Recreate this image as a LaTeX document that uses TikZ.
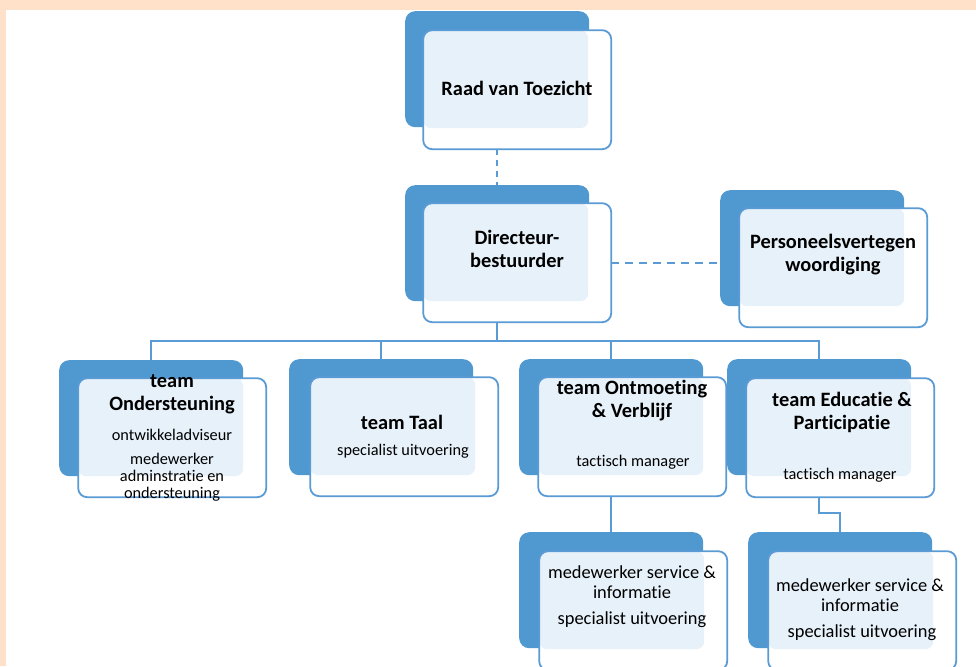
\documentclass[tikz,border=0pt]{standalone}
\usepackage{fontspec}
\setmainfont{Carlito}[Ligatures=CommonOff]
\definecolor{darkblue}{RGB}{80,152,208}
\definecolor{lineblue}{RGB}{91,155,213}
\definecolor{paleblue}{RGB}{231,241,249}
\definecolor{peach}{RGB}{255,224,200}
\begin{document}
\begin{tikzpicture}[x=1pt,y=-1pt]

\tikzset{back/.style = {shape=rectangle, rounded corners=10pt, fill=darkblue, minimum width=184pt, minimum height=116pt, inner sep=0pt, anchor=north west}}
\tikzset{front/.style = {shape=rectangle, rounded corners=9pt, fill=white, minimum width=188pt, minimum height=119pt, inner sep=0pt, anchor=north west,
  path picture={\fill[paleblue, rounded corners=8pt] (path picture bounding box.north west) rectangle ([xshift=-23pt,yshift=21pt]path picture bounding box.south east);},
  postaction={draw=lineblue, line width=1.8pt}}}
\tikzset{title/.style = {font=\bfseries\fontsize{20.4}{23}\selectfont, align=center}}
\tikzset{body/.style = {font=\fontsize{16.3}{17}\selectfont, align=center}}
\tikzset{subbody/.style = {font=\fontsize{18.4}{20.5}\selectfont, align=center}}
\tikzset{conn/.style = {draw=lineblue, line width=2pt}}

\useasboundingbox (0,0) rectangle (976,666);
\clip (0,0) rectangle (976,666);
\fill[white] (0,0) rectangle (976,666);
\fill[peach] (0,0) rectangle (976,10);
\fill[peach] (0,0) rectangle (6,666);

%boards
\node[back] (raadb) at (405,11) {};
\node[front] (raad) at (423,30) {};
\node[title] (raadt) at (517,88) {Raad van Toezicht};

\node[back] (dirb) at (405,185) {};
\node[front] (dir) at (423,203) {};
\node[title] (dirt) at (517,249) {Directeur-\\bestuurder};

\node[back] (persb) at (720,190) {};
\node[front] (pers) at (739,208) {};
\node[title] (perst) at (833,255) {Personeelsvertegen\\woordiging};

%teams
\node[back] (ondb) at (59,360) {};
\node[front] (ond) at (78,378) {};
\node[title] (ondt) at (172,394) {team\\Ondersteuning};
\node[body] (ondw) at (172,435) {ontwikkeladviseur};
\node[body] (ondm) at (172,477) {medewerker\\adminstratie en\\ondersteuning};

\node[back] (taalb) at (289,359) {};
\node[front] (taal) at (310,377) {};
\node[title] (taalt) at (402,422) {team Taal};
\node[body] (taalw) at (403,451) {specialist uitvoering};

\node[back] (ontb) at (519,359) {};
\node[front] (ont) at (538,377) {};
\node[title] (ontt) at (632,401) {team Ontmoeting\\\& Verblijf};
\node[body] (ontw) at (633,462) {tactisch manager};

\node[back] (edub) at (727,359) {};
\node[front] (edu) at (746,378) {};
\node[title] (edut) at (842,412) {team Educatie \&\\Participatie};
\node[body] (eduw) at (840,475) {tactisch manager};

%staff
\node[back] (ontsubb) at (519,532) {};
\node[front] (ontsub) at (539,551) {};
\node[subbody] (ontsubt) at (632,582) {medewerker service \&\\informatie};
\node[subbody] (ontsubw) at (632,620) {specialist uitvoering};

\node[back] (edusubb) at (748,532) {};
\node[front] (edusub) at (768,551) {};
\node[subbody] (edusubt) at (860,595) {medewerker service \&\\informatie};
\node[subbody] (edusubw) at (862,633) {specialist uitvoering};

%connectors
\draw[conn, dash pattern=on 6pt off 5pt] (raadb.south |- raad.south) -- (dirb.north);
\draw[conn, dash pattern=on 8pt off 6pt] (dir.east) -- (persb.west |- dir.east);
\draw[conn] (dirb.south |- dir.south) -- ++(0,19) coordinate (bus);
\draw[conn] (ondb.north) |- (bus) -| (edub.north);
\draw[conn] (taalb.north) -- (taalb.north |- bus);
\draw[conn] (ontb.north) -- (ontb.north |- bus);
\draw[conn] (ontb.south |- ont.south) -- (ontsubb.north);
\draw[conn] (edub.south |- edu.south) -- ++(0,16) -| (edusubb.north);

\end{tikzpicture}
\end{document}
